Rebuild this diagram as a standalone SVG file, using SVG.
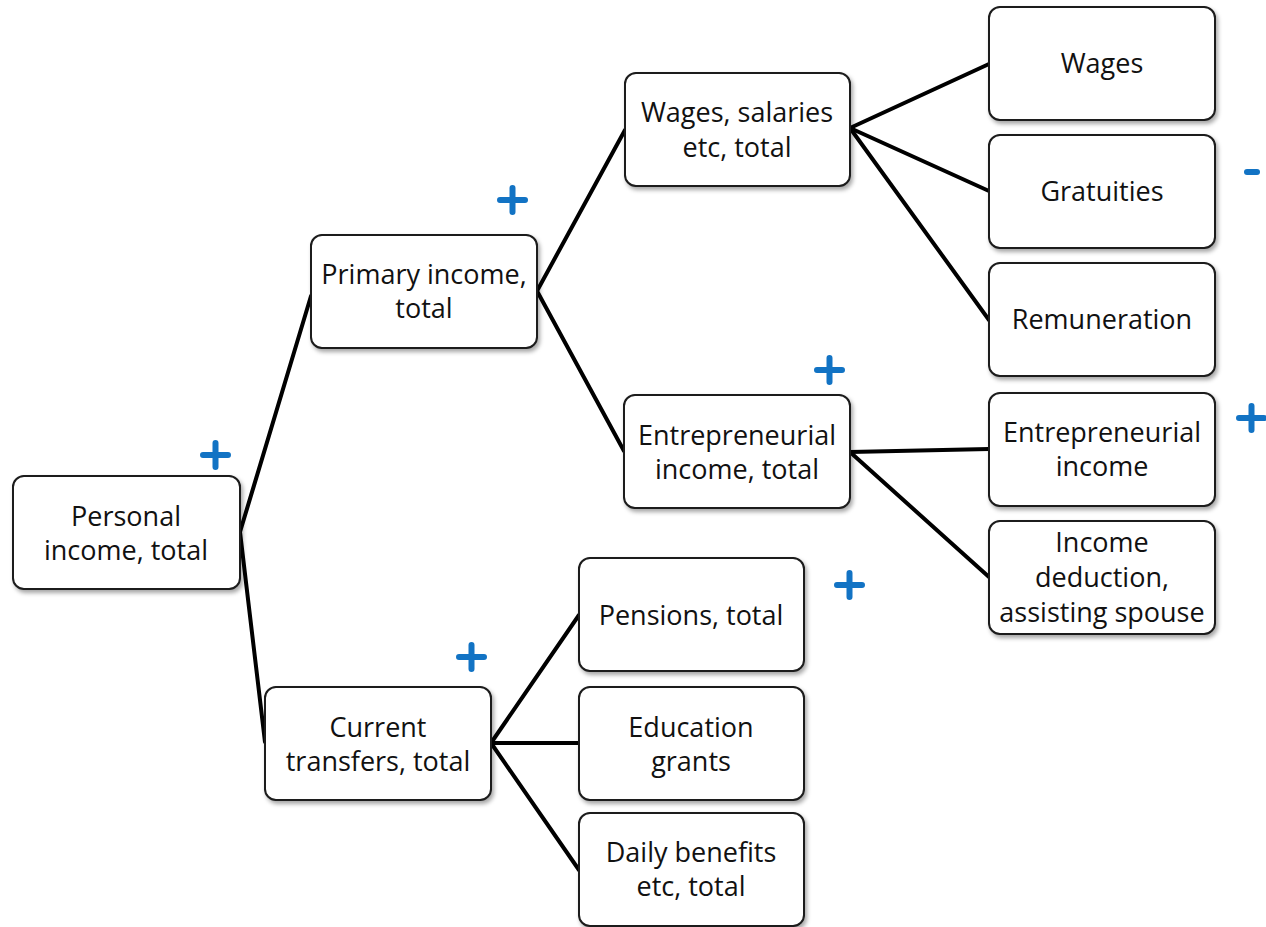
<svg xmlns="http://www.w3.org/2000/svg" width="1266" height="927" viewBox="0 0 1266 927">
  <style>
    .box { fill: #ffffff; stroke: #1a1a1a; stroke-width: 2; filter: url(#shadow); }
    .lbl { font-family: "Open Sans", "Liberation Sans", sans-serif; font-size: 27px; fill: #111111; text-anchor: middle; dominant-baseline: central; }
    .edge { stroke: #000000; stroke-width: 4; fill: none; stroke-linecap: round; }
    .sign { stroke: #1273c4; stroke-width: 6; stroke-linecap: round; fill: none; }
  </style>
  <defs>
    <filter id="shadow" x="-10%" y="-10%" width="125%" height="130%">
      <feDropShadow dx="2" dy="3" stdDeviation="2" flood-color="#000000" flood-opacity="0.35"/>
    </filter>
  </defs>
  <rect width="1266" height="927" fill="#ffffff"/>

  <!-- connectors -->
  <g id="connectors">
    <polyline class="edge" points="311,296 240,532 265,742"/>
    <polyline class="edge" points="625,130 537,291 624,451"/>
    <line class="edge" x1="850" y1="128" x2="989" y2="64"/>
    <line class="edge" x1="850" y1="128" x2="989" y2="191"/>
    <line class="edge" x1="850" y1="128" x2="989" y2="320"/>
    <line class="edge" x1="850" y1="452" x2="989" y2="449"/>
    <line class="edge" x1="850" y1="452" x2="989" y2="577"/>
    <line class="edge" x1="491" y1="743" x2="579" y2="615"/>
    <line class="edge" x1="491" y1="743" x2="579" y2="743"/>
    <line class="edge" x1="491" y1="743" x2="579" y2="870"/>
  </g>

  <!-- nodes -->
  <g id="personal">
    <rect class="box" x="13" y="476" width="227" height="113" rx="11"/>
    <text class="lbl" x="126" y="515">Personal</text>
    <text class="lbl" x="126" y="549">income, total</text>
  </g>
  <g id="primary">
    <rect class="box" x="311" y="235" width="226" height="113" rx="11"/>
    <text class="lbl" x="424" y="273">Primary income,</text>
    <text class="lbl" x="424" y="307">total</text>
  </g>
  <g id="transfers">
    <rect class="box" x="265" y="687" width="226" height="113" rx="11"/>
    <text class="lbl" x="378" y="726">Current</text>
    <text class="lbl" x="378" y="760">transfers, total</text>
  </g>
  <g id="wages-total">
    <rect class="box" x="625" y="73" width="225" height="113" rx="11"/>
    <text class="lbl" x="737" y="111">Wages, salaries</text>
    <text class="lbl" x="737" y="146">etc, total</text>
  </g>
  <g id="entrepreneurial-total">
    <rect class="box" x="624" y="395" width="226" height="113" rx="11"/>
    <text class="lbl" x="737" y="434">Entrepreneurial</text>
    <text class="lbl" x="737" y="468">income, total</text>
  </g>
  <g id="pensions">
    <rect class="box" x="579" y="558" width="225" height="113" rx="11"/>
    <text class="lbl" x="691" y="614">Pensions, total</text>
  </g>
  <g id="education">
    <rect class="box" x="579" y="687" width="225" height="113" rx="11"/>
    <text class="lbl" x="691" y="726">Education</text>
    <text class="lbl" x="691" y="760">grants</text>
  </g>
  <g id="daily">
    <rect class="box" x="579" y="813" width="225" height="113" rx="11"/>
    <text class="lbl" x="691" y="851">Daily benefits</text>
    <text class="lbl" x="691" y="885">etc, total</text>
  </g>
  <g id="wages">
    <rect class="box" x="989" y="7" width="226" height="113" rx="11"/>
    <text class="lbl" x="1102" y="62">Wages</text>
  </g>
  <g id="gratuities">
    <rect class="box" x="989" y="135" width="226" height="113" rx="11"/>
    <text class="lbl" x="1102" y="190">Gratuities</text>
  </g>
  <g id="remuneration">
    <rect class="box" x="989" y="263" width="226" height="113" rx="11"/>
    <text class="lbl" x="1102" y="318">Remuneration</text>
  </g>
  <g id="entrepreneurial">
    <rect class="box" x="989" y="393" width="226" height="113" rx="11"/>
    <text class="lbl" x="1102" y="431">Entrepreneurial</text>
    <text class="lbl" x="1102" y="465">income</text>
  </g>
  <g id="deduction">
    <rect class="box" x="989" y="521" width="226" height="113" rx="11"/>
    <text class="lbl" x="1102" y="541">Income</text>
    <text class="lbl" x="1102" y="576">deduction,</text>
    <text class="lbl" x="1102" y="611">assisting spouse</text>
  </g>

  <!-- sign markers -->
  <g id="signs">
    <path class="sign" d="M203,455 h25 M215.5,443 v24"/>
    <path class="sign" d="M500,200 h25 M512.5,188 v24"/>
    <path class="sign" d="M817,370 h25 M829.5,358 v24"/>
    <path class="sign" d="M837,585 h25 M849.5,573 v24"/>
    <path class="sign" d="M459,657 h25 M471.5,645 v24"/>
    <path class="sign" d="M1239,418 h25 M1251.5,406 v24"/>
    <path class="sign" d="M1247,172 h10"/>
  </g>
</svg>
